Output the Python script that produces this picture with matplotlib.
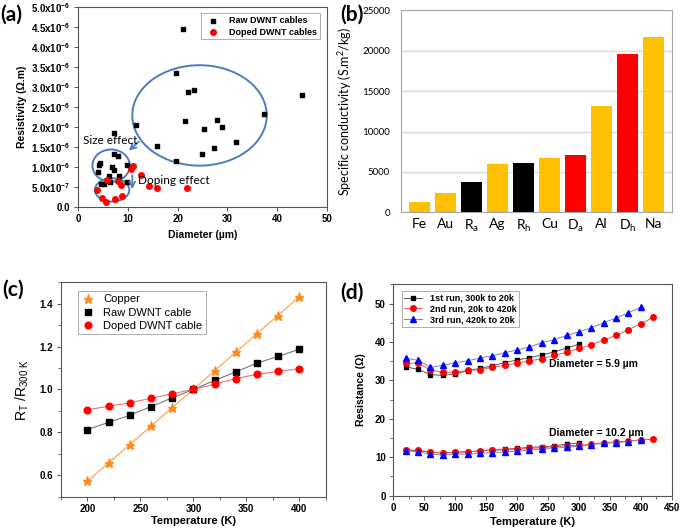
# DWNT cables: resistivity, specific conductivity, temperature dependence
import matplotlib.pyplot as plt
from matplotlib.patches import Ellipse
from matplotlib.ticker import MultipleLocator

plt.rcParams['font.family'] = ['Liberation Sans', 'DejaVu Sans']
plt.rcParams['mathtext.default'] = 'regular'

# (a) resistivity (x1e-6 Ohm.m) vs diameter (um)
raw_diam = [21.1, 19.6, 22.0, 23.3, 44.9, 37.4, 21.4, 27.9, 25.2, 28.9, 31.7, 27.4, 24.8,
            15.8, 19.6, 11.6, 7.3, 7.2, 8.0, 4.4, 4.3, 6.8, 7.2, 4.0, 6.3, 8.2, 9.8, 4.7,
            5.2, 6.5, 9.9]
raw_rho = [4.45, 3.35, 2.88, 2.93, 2.81, 2.33, 2.14, 2.17, 1.95, 1.99, 1.63, 1.48, 1.33,
           1.53, 1.14, 2.06, 1.85, 1.32, 1.27, 1.10, 1.04, 1.00, 0.93, 0.87, 0.78, 0.78,
           1.04, 0.58, 0.56, 0.63, 0.63]
doped_diam = [11.1, 10.7, 12.6, 14.2, 15.9, 21.9, 5.8, 8.0, 8.7, 3.9, 4.9, 5.6, 7.5, 8.8]
doped_rho = [1.03, 0.95, 0.79, 0.52, 0.46, 0.48, 0.67, 0.65, 0.54, 0.42, 0.23, 0.13, 0.19, 0.27]
rho_ticks = [0, 0.5, 1.0, 1.5, 2.0, 2.5, 3.0, 3.5, 4.0, 4.5, 5.0]
rho_labels = ['0.0', '5.0x10$^{-7}$', '1.0x10$^{-6}$', '1.5x10$^{-6}$', '2.0x10$^{-6}$',
              '2.5x10$^{-6}$', '3.0x10$^{-6}$', '3.5x10$^{-6}$', '4.0x10$^{-6}$',
              '4.5x10$^{-6}$', '5.0x10$^{-6}$']

# (b) specific conductivity
materials = ['Fe', 'Au', 'R$_a$', 'Ag', 'R$_h$', 'Cu', 'D$_a$', 'Al', 'D$_h$', 'Na']
spec_cond = [1300, 2350, 3700, 6000, 6050, 6700, 7050, 13150, 19550, 21650]
bar_colors = ['#FFC000', '#FFC000', '#000000', '#FFC000', '#000000', '#FFC000',
              '#FF0000', '#FFC000', '#FF0000', '#FFC000']

# (c) normalised resistance
temp_c = [200, 220, 240, 260, 280, 300, 320, 340, 360, 380, 400]
copper = [0.572, 0.658, 0.743, 0.829, 0.916, 1.0, 1.087, 1.174, 1.26, 1.345, 1.433]
raw_norm = [0.813, 0.847, 0.88, 0.92, 0.961, 1.0, 1.042, 1.082, 1.123, 1.154, 1.188]
doped_norm = [0.905, 0.922, 0.938, 0.959, 0.98, 1.0, 1.025, 1.05, 1.071, 1.084, 1.097]

# (d) resistance vs temperature, three runs, two cables
temp_run1 = [20, 40, 60, 80, 100, 120, 140, 160, 180, 200, 220, 240, 260, 280, 300]
temp_run2 = [20, 40, 60, 80, 100, 120, 140, 160, 180, 200, 220, 240, 260, 280, 300,
             320, 340, 360, 380, 400, 420]
temp_run3 = [20, 40, 60, 80, 100, 120, 140, 160, 180, 200, 220, 240, 260, 280, 300,
             320, 340, 360, 380, 400]
run1_59 = [33.5, 32.9, 31.5, 31.3, 31.7, 32.5, 33.1, 33.8, 34.6, 35.3, 35.9, 36.6, 37.4,
           38.4, 39.4]
run2_59 = [34.5, 34.5, 32.7, 32.1, 32.1, 32.6, 32.8, 33.4, 33.9, 34.5, 35.1, 35.6, 36.5,
           37.3, 38.3, 39.3, 40.5, 41.7, 43.2, 44.7, 46.4]
run3_59 = [35.8, 35.2, 33.4, 33.9, 34.6, 35.1, 35.8, 36.4, 37.2, 37.9, 38.7, 39.8, 40.6,
           41.7, 42.6, 43.7, 45.0, 46.2, 47.6, 49.0]
run1_102 = [11.9, 11.7, 11.3, 11.1, 11.3, 11.4, 11.7, 11.9, 12.1, 12.3, 12.6, 12.7, 13.0,
            13.4, 13.7]
run2_102 = [11.9, 11.8, 11.4, 11.2, 11.3, 11.4, 11.6, 11.8, 12.0, 12.1, 12.3, 12.5, 12.7,
            13.0, 13.1, 13.4, 13.8, 14.0, 14.2, 14.5, 14.7]
run3_102 = [11.7, 11.4, 10.8, 10.6, 10.8, 10.8, 11.0, 11.2, 11.4, 11.6, 11.9, 12.1, 12.3,
            12.7, 12.9, 13.3, 13.6, 13.8, 14.1, 14.6]

fig = plt.figure(figsize=(6.8, 5.3), dpi=100)
ax_a = fig.add_axes([0.1147, 0.61, 0.3662, 0.376])
ax_b = fig.add_axes([0.5897, 0.5994, 0.3983, 0.3812])
ax_c = fig.add_axes([0.0897, 0.0628, 0.3893, 0.4046])
ax_d = fig.add_axes([0.5784, 0.0647, 0.4094, 0.3989])

for ax in (ax_a, ax_c, ax_d):
    for sp in ax.spines.values():
        sp.set_color('#555555')
        sp.set_linewidth(0.8)
    ax.tick_params(which='major', length=3, width=0.7, color='#555555', labelsize=7, pad=2.5)
    ax.tick_params(which='minor', length=2, width=0.6, color='#555555')

# ---- (a)
blue = '#4A7EBB'
ax_a.scatter(raw_diam, raw_rho, marker='s', s=12, color='k', label='Raw DWNT cables', zorder=3)
ax_a.scatter(doped_diam, doped_rho, marker='o', s=16, color='#FF0000', label='Doped DWNT cables', zorder=3)
ax_a.add_patch(Ellipse((24.4, 2.29), 27.0, 2.52, fill=False, ec=blue, lw=1.4))
ax_a.add_patch(Ellipse((6.65, 1.03), 7.5, 0.81, fill=False, ec=blue, lw=1.4))
ax_a.add_patch(Ellipse((6.85, 0.42), 6.9, 0.585, fill=False, ec=blue, lw=1.4))
ax_a.annotate('', xy=(9.8, 1.36), xytext=(12.6, 1.68),
              arrowprops=dict(arrowstyle='->', color=blue, lw=1.3))
ax_a.annotate('', xy=(10.9, 0.37), xytext=(10.9, 0.86),
              arrowprops=dict(arrowstyle='->', color=blue, lw=1.3))
ax_a.text(1.0, 1.67, 'Size effect', fontsize=8.5, family='Lato', va='center')
ax_a.text(12.0, 0.65, 'Doping effect', fontsize=8.5, family='Lato', va='center')
ax_a.set_xlim(0, 50)
ax_a.set_ylim(0, 5)
ax_a.set_xticks([0, 10, 20, 30, 40, 50])
ax_a.set_yticks(rho_ticks)
ax_a.set_yticklabels(rho_labels, fontweight='bold')
ax_a.set_xticklabels(['0', '10', '20', '30', '40', '50'], fontweight='bold')
ax_a.set_xlabel('Diameter (\u00b5m)', fontsize=7.5, fontweight='bold', labelpad=4)
ax_a.set_ylabel('Resistivity (\u03a9.m)', fontsize=7.5, fontweight='bold', labelpad=3)
leg = ax_a.legend(loc='upper right', bbox_to_anchor=(0.972, 0.971), borderaxespad=0,
                  prop={'weight': 'bold', 'size': 6.5}, fancybox=False,
                  edgecolor='#888888', handletextpad=0.8, borderpad=0.3, labelspacing=0.3)
leg.get_frame().set_linewidth(0.6)

# ---- (b)
ax_b.bar(range(len(materials)), spec_cond, width=0.8, color=bar_colors, zorder=3)
ax_b.set_xlim(-0.7, 9.7)
ax_b.set_ylim(0, 25000)
ax_b.set_yticks([0, 5000, 10000, 15000, 20000, 25000])
ax_b.yaxis.grid(True, color='#D9D9D9', lw=1, zorder=0)
ax_b.set_axisbelow(True)
ax_b.set_xticks(range(len(materials)))
ax_b.set_xticklabels(materials, fontsize=10, family='Lato')
for lbl in ax_b.get_yticklabels():
    lbl.set_family('Lato')
ax_b.tick_params(axis='y', length=0, labelsize=7, pad=8)
ax_b.tick_params(axis='x', length=0, pad=4)
for sp in ax_b.spines.values():
    sp.set_color('#A6A6A6')
ax_b.set_ylabel('Specific conductivity (S.m$^2$/kg)', fontsize=9, family='Lato', labelpad=6)

# ---- (c)
ax_c.plot(temp_c, copper, color='#F5A04A', lw=0.8, marker='*', ms=6.5,
          mfc='#FF8A1E', mec='#FF8A1E', label='Copper')
ax_c.plot(temp_c, raw_norm, color='#777777', lw=0.8, marker='s', ms=4.3,
          mfc='k', mec='k', label='Raw DWNT cable')
ax_c.plot(temp_c, doped_norm, color='#F07070', lw=0.8, marker='o', ms=4.8,
          mfc='#FF0000', mec='#FF0000', label='Doped DWNT cable')
ax_c.set_xlim(175, 425)
ax_c.set_ylim(0.5, 1.5)
ax_c.set_xticks([200, 250, 300, 350, 400])
ax_c.set_yticks([0.6, 0.8, 1.0, 1.2, 1.4])
ax_c.xaxis.set_minor_locator(MultipleLocator(25))
ax_c.yaxis.set_minor_locator(MultipleLocator(0.1))
for lbl in ax_c.get_xticklabels() + ax_c.get_yticklabels():
    lbl.set_fontweight('bold')
ax_c.set_xlabel('Temperature (K)', fontsize=8, fontweight='bold', labelpad=1.5)
ax_c.set_ylabel('R$_T$ /R$_{300\\ K}$', fontsize=10, labelpad=6)
handles, labels = ax_c.get_legend_handles_labels()
leg = ax_c.legend(handles, labels, loc='upper left', bbox_to_anchor=(0.064, 0.959),
                  borderaxespad=0, fontsize=8, fancybox=False, edgecolor='#888888',
                  handlelength=1.2, borderpad=0.3, labelspacing=0.3)
for h in leg.get_lines():
    h.set_linestyle('none')
leg.get_frame().set_linewidth(0.6)

# ---- (d)
ax_d.plot(temp_run1, run1_59, color='#555555', lw=0.7, marker='s', ms=3.5, mfc='k', mec='k',
          label='1st run, 300k to 20k')
ax_d.plot(temp_run2, run2_59, color='#E06060', lw=0.7, marker='o', ms=4.0,
          mfc='#FF0000', mec='#FF0000', label='2nd run, 20k to 420k')
ax_d.plot(temp_run3, run3_59, color='#8080C0', lw=0.7, marker='^', ms=4.2,
          mfc='#0000FF', mec='#0000FF', label='3rd run, 420k to 20k')
ax_d.plot(temp_run1, run1_102, color='#555555', lw=0.7, marker='s', ms=3.5, mfc='k', mec='k')
ax_d.plot(temp_run2, run2_102, color='#E06060', lw=0.7, marker='o', ms=4.0,
          mfc='#FF0000', mec='#FF0000')
ax_d.plot(temp_run3, run3_102, color='#8080C0', lw=0.7, marker='^', ms=4.2,
          mfc='#0000FF', mec='#0000FF')
ax_d.text(251, 34.2, 'Diameter = 5.9 \u00b5m', fontsize=7.5, fontweight='bold', va='center')
ax_d.text(251, 16.2, 'Diameter = 10.2 \u00b5m', fontsize=7.5, fontweight='bold', va='center')
ax_d.set_xlim(0, 450)
ax_d.set_ylim(0, 55)
ax_d.set_xticks(range(0, 451, 50))
ax_d.set_yticks(range(0, 51, 10))
ax_d.xaxis.set_minor_locator(MultipleLocator(25))
ax_d.yaxis.set_minor_locator(MultipleLocator(5))
for lbl in ax_d.get_xticklabels() + ax_d.get_yticklabels():
    lbl.set_fontweight('bold')
ax_d.set_xlabel('Temperature (K)', fontsize=8, fontweight='bold', labelpad=2.5)
ax_d.set_ylabel('Resistance (\u03a9)', fontsize=7.5, fontweight='bold', labelpad=6)
leg = ax_d.legend(loc='upper left', bbox_to_anchor=(0.03, 0.968), borderaxespad=0,
                  prop={'weight': 'bold', 'size': 6.5}, fancybox=False, edgecolor='#888888',
                  handlelength=2.0, borderpad=0.3, labelspacing=0.2)
leg.get_frame().set_linewidth(0.6)

# panel letters
for x, y, s in [(0.0, 0.972, '(a)'), (0.5, 0.972, '(b)'), (0.004, 0.453, '(c)'), (0.5, 0.447, '(d)')]:
    fig.text(x, y, s, fontsize=15, fontweight='bold', family='Lato', va='center')

plt.savefig('out.png', dpi=100)
